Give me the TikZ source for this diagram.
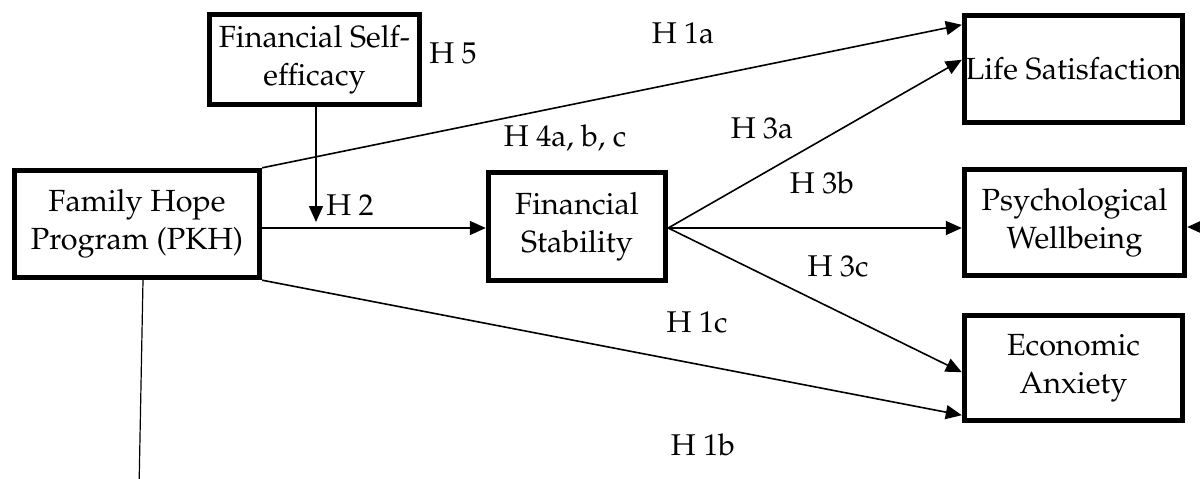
\documentclass[tikz,border=0pt]{standalone}
\usepackage[T1]{fontenc}
\usepackage{mathpazo}
\usetikzlibrary{arrows.meta,calc}
\tikzset{
  box/.style={draw, line width=2.7pt, align=center, inner sep=0pt,
    font=\fontsize{15.3}{19}\selectfont},
  conn/.style={line width=0.8pt, -{Triangle[length=8pt,width=7pt]}},
  plain/.style={line width=0.6pt},
  lab/.style={font=\fontsize{15}{19}\selectfont, inner sep=0pt}
}
\begin{document}
\begin{tikzpicture}[x=0.5pt,y=-0.5pt]
\useasboundingbox (0,0) rectangle (1200,478);
\clip (0,0) rectangle (1200,478);
\node[box, minimum width=122.5pt, minimum height=53.5pt] (FH) at (137,224) {Family Hope\\Program (PKH)};
\node[box, minimum width=105pt, minimum height=45pt] (SE) at (314.5,59.5) {Financial Self-\\efficacy};
\node[box, minimum width=88.5pt, minimum height=54pt] (FS) at (577,226.5) {Financial\\Stability};
\node[box, minimum width=109pt, minimum height=53.5pt] (LS) at (1073.5,69) {Life Satisfaction};
\node[box, minimum width=110pt, minimum height=53pt] (PW) at (1074.5,222.5) {Psychological\\Wellbeing};
\node[box, minimum width=109pt, minimum height=52.5pt] (EA) at (1073.5,368) {Economic\\Anxiety};

\coordinate (mod) at (316,222);
\coordinate (rin) at (1240,227);
\coordinate (bot) at (139,490);

\draw[conn] (FH.north east) -- ([yshift=-6pt]LS.north west);
\draw[conn] (FH.east |- 0,228) -- (FS.west |- 0,228);
\draw[conn] (SE.south -| mod) -- (mod);
\draw[conn] (FS.east |- 0,228) -- ([yshift=-23.5pt]LS.north west);
\draw[conn] (FS.east |- 0,228) -- (PW.west |- 0,228);
\draw[conn] (FS.east |- 0,228) -- ([yshift=25.5pt]EA.south west);
\draw[conn] (FH.south east) -- ([yshift=4pt]EA.south west);
\draw[conn] (rin) -- (PW.east |- 0,227);
\draw[plain] ([xshift=3pt]FH.south) -- (bot);

\node[lab] (h5) at (453,53) {H 5};
\node[lab] (h1a) at (683,33) {H 1a};
\node[lab] (h4) at (565,138) {H 4a, b, c};
\node[lab] (h3a) at (762,128) {H 3a};
\node[lab] (h3b) at (822,183) {H 3b};
\node[lab] (h3c) at (838,266) {H 3c};
\node[lab] (h1c) at (697,322) {H 1c};
\node[lab] (h1b) at (703,445) {H 1b};
\node[lab] (h2) at (350,205) {H 2};
\end{tikzpicture}
\end{document}
